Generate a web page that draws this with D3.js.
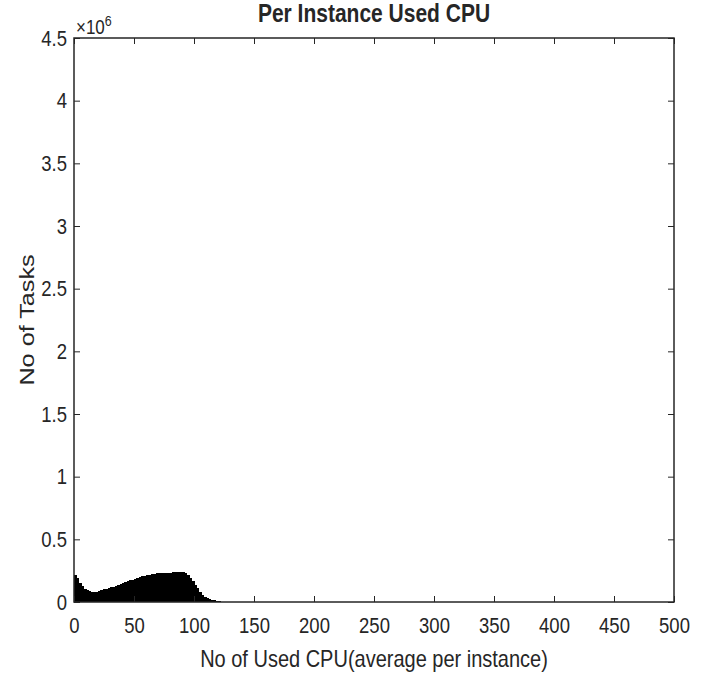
<!DOCTYPE html>
<html>
<head>
<meta charset="utf-8">
<script src="https://cdn.jsdelivr.net/npm/d3@7"></script>
<style>
  body { margin: 0; background: #fff; }
  text { font-family: "Liberation Sans", Arial, sans-serif; fill: #262626; }
</style>
</head>
<body>
<svg id="chart" width="705" height="675"></svg>
<script>
// histogram bins of width 2, counts in units of 1e6
const binWidth = 2;
const binStarts = d3.range(0, 126, binWidth);
const binCounts = [
  0.215, 0.19, 0.15, 0.125, 0.105, 0.093, 0.085, 0.08, 0.079, 0.082,
  0.088, 0.095, 0.1, 0.107, 0.112, 0.118, 0.123, 0.13, 0.137, 0.145,
  0.152, 0.158, 0.166, 0.172, 0.178, 0.185, 0.192, 0.199, 0.205, 0.211,
  0.216, 0.219, 0.222, 0.225, 0.228, 0.229, 0.23, 0.231, 0.232, 0.234,
  0.235, 0.236, 0.237, 0.238, 0.24, 0.239, 0.232, 0.215, 0.195, 0.168,
  0.135, 0.108, 0.08, 0.058, 0.04, 0.028, 0.021, 0.017, 0.015, 0.011,
  0.006, 0.003, 0.001
];
const xTicks = d3.range(0, 501, 50);
const yTicks = d3.range(0, 4.51, 0.5);

const svg = d3.select("#chart");
const margin = { top: 38, right: 31, bottom: 73, left: 74 };
const width = 705 - margin.left - margin.right;
const height = 675 - margin.top - margin.bottom;
const stretch = 1.2; // the picture text is taller than wide

const x = d3.scaleLinear().domain([0, 500]).range([0, width]);
const y = d3.scaleLinear().domain([0, 4.5]).range([height, 0]);

const g = svg.append("g").attr("transform", `translate(${margin.left},${margin.top})`);

// bars
g.selectAll("rect.bar")
  .data(binStarts)
  .enter()
  .append("rect")
  .attr("class", "bar")
  .attr("x", (d) => x(d))
  .attr("width", x(binWidth) - x(0) + 0.6)
  .attr("y", (d, i) => y(binCounts[i]))
  .attr("height", (d, i) => y(0) - y(binCounts[i]))
  .attr("fill", "#000")
  .attr("shape-rendering", "crispEdges");

const fmtY = (d) => (d === 0 ? "0" : d3.format("~g")(d));

// axes with inward ticks, mirrored on top/right
const axisStyle = (sel) => {
  sel.select(".domain").remove();
  sel.selectAll(".tick line").attr("stroke", "#262626").attr("stroke-width", 1);
  sel.selectAll(".tick text")
    .attr("font-size", 18.5)
    .attr("font-family", null)
    .attr("fill", "#262626");
};

g.append("g")
  .attr("transform", `translate(0,${height})`)
  .call(d3.axisBottom(x).tickValues(xTicks).tickSizeInner(-6).tickSizeOuter(0).tickPadding(13))
  .call(axisStyle)
  .call((s) => s.selectAll(".tick text").attr("transform", `scale(1,${stretch})`));

g.append("g")
  .call(d3.axisTop(x).tickValues(xTicks).tickSizeInner(-6).tickSizeOuter(0).tickFormat(""))
  .call(axisStyle);

g.append("g")
  .call(d3.axisLeft(y).tickValues(yTicks).tickFormat(fmtY).tickSizeInner(-6).tickSizeOuter(0).tickPadding(7))
  .call(axisStyle)
  .call((s) => s.selectAll(".tick text").attr("transform", `scale(1,${stretch})`));

g.append("g")
  .attr("transform", `translate(${width},0)`)
  .call(d3.axisRight(y).tickValues(yTicks).tickSizeInner(-6).tickSizeOuter(0).tickFormat(""))
  .call(axisStyle);

// box
g.append("rect")
  .attr("width", width)
  .attr("height", height)
  .attr("fill", "none")
  .attr("stroke", "#262626")
  .attr("stroke-width", 1.5);

// exponent label
const ex = g.append("text")
  .attr("transform", `translate(2,-4) scale(1,${stretch})`)
  .attr("font-size", 17);
ex.append("tspan").text("\u00d710");
ex.append("tspan").attr("dy", -7).attr("font-size", 12.5).text("6");

// title
svg.append("text")
  .attr("transform", `translate(${margin.left + width / 2},22) scale(1,${stretch})`)
  .attr("text-anchor", "middle")
  .attr("font-size", 21)
  .attr("font-weight", "bold")
  .attr("fill", "#000")
  .text("Per Instance Used CPU");

// x label
svg.append("text")
  .attr("transform", `translate(${margin.left + width / 2},667) scale(1,${stretch})`)
  .attr("text-anchor", "middle")
  .attr("font-size", 20)
  .text("No of Used CPU(average per instance)");

// y label
svg.append("text")
  .attr("transform", `translate(34,${margin.top + height / 2}) rotate(-90) scale(${stretch},1)`)
  .attr("text-anchor", "middle")
  .attr("font-size", 21)
  .text("No of Tasks");
</script>
</body>
</html>
